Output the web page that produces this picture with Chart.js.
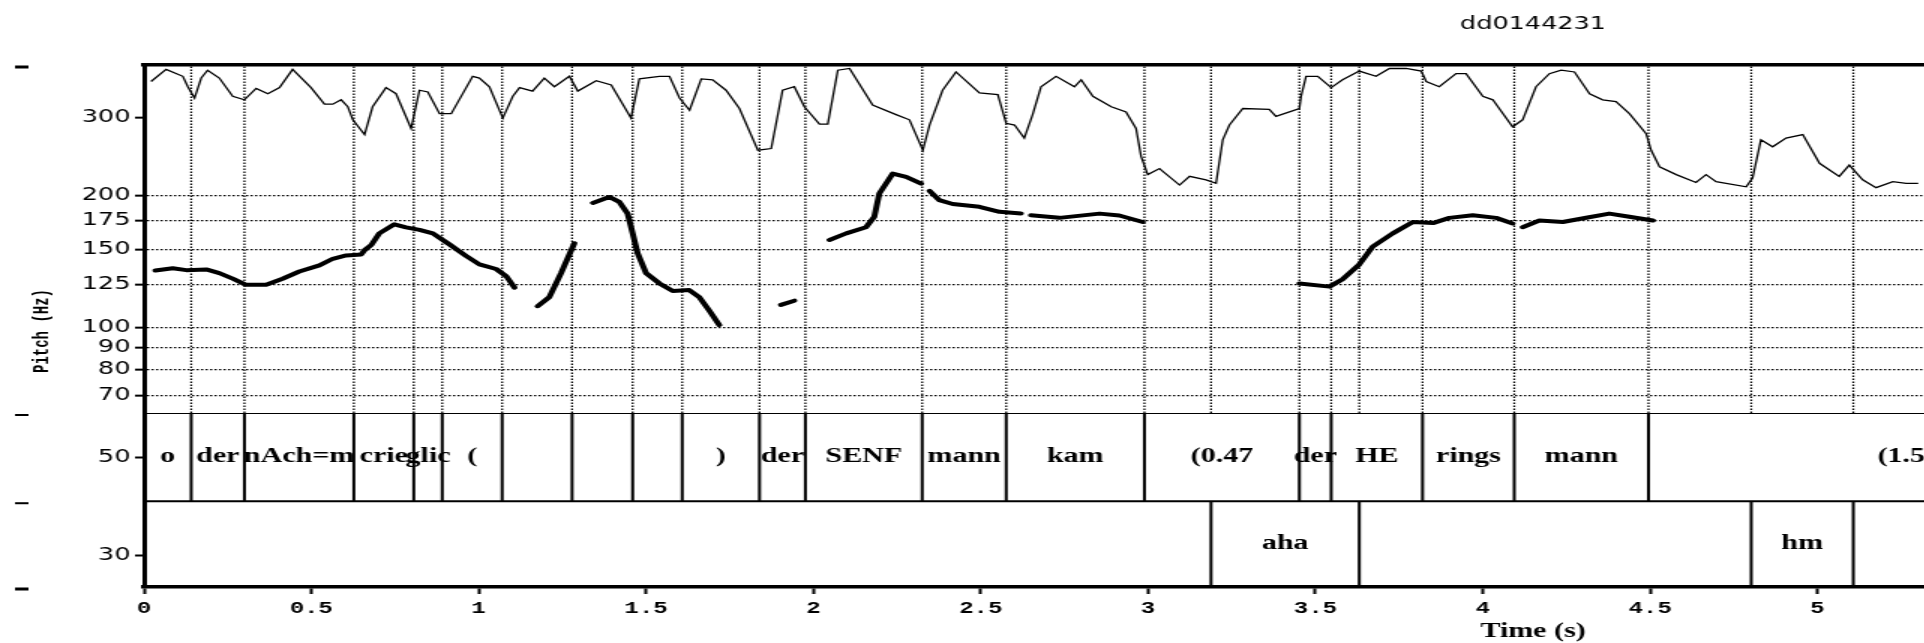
<!DOCTYPE html>
<html>
<head>
<meta charset="utf-8">
<script src="https://cdn.jsdelivr.net/npm/chart.js@4.4.1/dist/chart.umd.min.js"></script>
<style>
  html, body { margin: 0; padding: 0; background: #fff; width: 1924px; height: 643px; overflow: hidden; }
  /* the original figure is stretched horizontally, so draw narrow and widen */
  #wrap { width: 2044px; height: 643px; transform: scaleX(1.5); transform-origin: 0 0; }
  canvas { display: block; }
</style>
</head>
<body>
<div id="wrap"><canvas id="pitch" width="2044" height="643"></canvas></div>
<script>
// axes
const TIME_MAX = 8.3;
const TIME_TICKS = [0, 0.5, 1, 1.5, 2, 2.5, 3, 3.5, 4, 4.5, 5, 5.5, 6, 6.5, 7, 7.5, 8];
const PITCH_MIN = 63.8, PITCH_MAX = 396;
const PITCH_TICKS = [70, 80, 90, 100, 125, 150, 175, 200, 300];
const TIER_MIN = 23.5, TIER_SPLIT = 41, TIER_MAX = 59;
const TIER_TICKS = [30, 50];
const INT_MIN = 30, INT_MAX = 90;

// pitch contour (s, Hz), null = voiceless gap
const pitchT = [0.034,0.086,0.126,0.186,0.225,0.265,0.305,0.365,0.414,0.464,0.524,0.564,0.604,0.649,0.659,0.679,0.703,0.748,0.783,0.823,0.863,0.912,0.962,1.002,1.052,1.082,1.107,null,
  1.176,1.211,1.246,1.286,null,
  1.341,1.390,1.420,1.445,1.460,1.475,1.500,1.540,1.580,1.629,1.659,1.689,1.719,null,
  1.903,1.943,null,
  2.048,2.098,2.157,2.182,2.197,2.237,2.277,2.322,null,
  2.347,2.376,2.416,2.496,2.556,2.620,null,
  2.650,2.735,2.855,2.914,2.984,null,
  3.452,3.542,3.581,3.631,3.671,3.731,3.791,3.851,3.900,3.970,4.040,4.089,null,
  4.119,4.169,4.239,4.309,4.378,4.438,4.508];
const pitchHz = [134.7,136.3,135.0,135.5,132.9,129.1,125.0,125.0,129.0,134.0,138.4,143.3,145.8,146.6,150.0,154.0,163.7,171.7,169.0,166.8,163.7,154.6,145.5,139.1,135.8,130.9,123.1,null,
  111.7,117.2,132.9,155.5,null,
  192.1,198.2,193.1,181.6,163.7,147.4,132.9,125.9,121.0,121.6,117.2,109.1,101.2,null,
  112.5,115.0,null,
  158.2,163.7,169.1,178.6,201.8,224.0,220.3,212.5,null,
  204.5,194.9,191.0,188.2,183.3,181.6,null,
  180.1,177.6,181.6,179.8,173.8,null,
  125.9,123.8,128.7,139.1,152.7,163.7,173.8,172.8,177.6,180.1,177.6,172.4,null,
  169.1,175.2,173.8,177.7,181.6,178.6,175.2];

// intensity contour (s, dB)
const intT = [0.021,0.066,0.116,0.131,0.151,0.171,0.190,0.225,0.265,0.300,0.335,0.370,0.405,0.444,0.499,0.539,0.564,0.589,0.609,0.624,
  0.659,0.683,0.723,0.753,0.798,0.823,0.848,0.883,0.918,0.982,1.002,1.032,1.072,1.102,1.122,1.161,1.196,1.226,1.271,1.296,
  1.351,1.396,1.455,1.480,1.540,1.570,1.600,1.630,1.665,1.699,1.739,1.779,1.834,1.874,1.908,1.943,1.973,2.018,2.043,2.073,
  2.108,2.177,2.247,2.287,2.327,2.347,2.386,2.426,2.496,2.551,2.576,2.601,2.630,2.655,2.680,2.725,2.780,2.800,2.835,2.890,
  2.934,2.964,2.979,2.999,3.034,3.094,3.124,3.173,3.203,3.223,3.243,3.283,3.362,3.382,3.452,3.457,3.472,3.507,3.547,3.581,
  3.631,3.681,3.721,3.771,3.816,3.831,3.870,3.920,3.950,4.000,4.030,4.089,4.119,4.159,4.199,4.234,4.274,4.319,4.358,4.398,
  4.438,4.488,4.503,4.528,4.578,4.637,4.667,4.697,4.787,4.806,4.831,4.866,4.906,4.956,5.006,5.065,5.095,5.135,5.175,5.225,
  5.265,5.301];
const intDb = [88.1,89.5,88.7,87.5,86.2,88.5,89.4,88.5,86.4,86.0,87.3,86.7,87.4,89.5,87.4,85.5,85.5,86.0,85.2,83.7,
  82.0,85.2,87.4,86.7,82.7,87.1,86.9,84.4,84.4,88.7,88.5,87.5,83.9,86.4,87.4,87.0,88.5,87.5,88.7,87.0,
  88.2,87.7,83.9,88.4,88.7,88.7,86.2,84.8,88.4,88.3,87.1,85.0,80.2,80.4,87.1,87.5,85.2,83.2,83.2,89.4,
  89.6,85.4,84.3,83.7,80.2,83.1,87.1,89.2,86.8,86.6,83.3,83.1,81.6,84.3,87.5,88.7,87.5,88.3,86.4,85.2,
  84.6,82.7,79.5,77.4,78.1,76.2,77.2,76.8,76.4,81.4,83.1,85.0,84.9,84.1,85.0,86.4,88.7,88.7,87.4,88.3,
  89.3,88.7,89.6,89.6,89.3,88.1,87.5,89.0,89.0,86.4,86.0,82.9,83.7,87.5,89.0,89.4,89.2,86.7,86.0,85.8,
  84.4,82.1,80.2,78.3,77.4,76.5,77.4,76.6,76.0,77.0,81.4,80.6,81.6,82.0,78.7,77.2,78.5,76.8,75.9,76.6,
  76.4,76.4];

// text grid: word tier and backchannel tier
const wordBounds = [0, 0.141, 0.300, 0.627, 0.806, 0.891, 1.070, 1.279, 1.460, 1.608, 1.839, 1.976, 2.325, 2.576, 2.989, 3.452, 3.547, 3.820, 4.094, 4.495, 6.05];
const wordLabels = ["o", "der", "nAch=m", "crie", "glic", "(", "", "", "", ")", "der", "SENF", "mann", "kam", "(0.47", "der", "HE", "rings", "mann", "(1.52"];
const backBounds = [0, 3.188, 3.631, 4.802, 5.107, TIME_MAX];
const backLabels = ["", "aha", "", "hm", ""];

const BLACK = "#000";

function vLines(xs, y0, y1) {
  return xs.flatMap((x) => [{ x, y: y0 }, { x, y: y1 }, { x, y: null }]);
}

const inner = (b) => b.filter((t) => t > 0 && t < TIME_MAX);
const allBounds = [...new Set([...inner(wordBounds), ...inner(backBounds)])].sort((a, b) => a - b);

const tierText = {
  id: "tierText",
  afterDatasetsDraw(chart) {
    const { ctx, chartArea, scales } = chart;
    const x = scales.x, yTier = scales.yTier;
    ctx.save();
    ctx.fillStyle = BLACK;
    ctx.textAlign = "center";
    ctx.textBaseline = "middle";
    ctx.font = 'bold 20px "Liberation Serif", serif';
    const rows = [
      [wordBounds, wordLabels, TIER_SPLIT, TIER_MAX],
      [backBounds, backLabels, TIER_MIN, TIER_SPLIT],
    ];
    rows.forEach(([b, labels, lo, hi]) => {
      const y = yTier.getPixelForValue((lo + hi) / 2);
      labels.forEach((s, i) => {
        if (s) ctx.fillText(s, x.getPixelForValue((b[i] + b[i + 1]) / 2), y);
      });
    });
    // marks left over from the neighbouring panel
    [scales.yPitch.getPixelForValue(PITCH_MAX), yTier.getPixelForValue(TIER_MAX),
     yTier.getPixelForValue(TIER_SPLIT), yTier.getPixelForValue(TIER_MIN)].forEach((y, i) => {
      const h = i === 0 || i === 3 ? 3 : 2;
      ctx.fillRect(10, y + 2 - h / 2, 9, h);
    });
    // axis title spans the whole stack
    ctx.font = 'bold 14px "Liberation Mono", monospace';
    ctx.translate(28, (chartArea.top + chartArea.bottom) / 2 + 5);
    ctx.rotate(-Math.PI / 2);
    ctx.fillText("Pitch (Hz)", 0, 0);
    ctx.restore();
  },
};

const tickFont = { family: '"DejaVu Sans", sans-serif', size: 17 };

new Chart(document.getElementById("pitch"), {
  type: "line",
  data: {
    datasets: [
      {
        label: "Pitch",
        data: pitchT.map((t, i) => ({ x: t, y: pitchHz[i] })),
        yAxisID: "yPitch",
        borderColor: BLACK,
        borderWidth: 4,
        borderCapStyle: "round",
        borderJoinStyle: "round",
      },
      {
        label: "Intensity",
        data: intT.map((t, i) => ({ x: t, y: intDb[i] })),
        yAxisID: "yInt",
        borderColor: BLACK,
        borderWidth: 1.3,
      },
      {
        label: "word boundaries",
        data: vLines(inner(wordBounds), TIER_SPLIT, TIER_MAX),
        yAxisID: "yTier",
        borderColor: BLACK,
        borderWidth: 2,
      },
      {
        label: "backchannel boundaries",
        data: vLines(inner(backBounds), TIER_MIN, TIER_SPLIT),
        yAxisID: "yTier",
        borderColor: BLACK,
        borderWidth: 2,
      },
      {
        label: "tier lines",
        data: [{ x: 0, y: TIER_MAX }, { x: TIME_MAX, y: TIER_MAX }, { x: 0, y: null },
               { x: 0, y: TIER_SPLIT }, { x: TIME_MAX, y: TIER_SPLIT }],
        yAxisID: "yTier",
        borderColor: BLACK,
        borderWidth: 2,
      },
      {
        label: "boundary guides",
        data: vLines(allBounds, PITCH_MIN, PITCH_MAX),
        yAxisID: "yPitch",
        borderColor: BLACK,
        borderWidth: 1.3,
        borderDash: [1.5, 1.5],
      },
    ],
  },
  options: {
    responsive: false,
    devicePixelRatio: 1,
    animation: false,
    events: [],
    elements: { point: { radius: 0 }, line: { tension: 0 } },
    plugins: {
      legend: { display: false },
      tooltip: { enabled: false },
      title: {
        display: true,
        text: "dd0144231",
        color: BLACK,
        font: { family: '"DejaVu Sans", sans-serif', size: 17, weight: "normal", lineHeight: 1.2 },
        padding: { top: 14, bottom: 30.6 },
      },
    },
    scales: {
      x: {
        type: "linear",
        position: "bottom",
        min: 0,
        max: TIME_MAX,
        afterBuildTicks: (s) => { s.ticks = TIME_TICKS.map((v) => ({ value: v })); },
        afterFit: (s) => { s.height = 56; },
        ticks: {
          callback: (v) => String(v),
          color: BLACK,
          font: { family: '"Liberation Mono", monospace', size: 16, weight: "bold" },
          padding: 5,
          maxRotation: 0,
          autoSkip: false,
        },
        grid: { drawOnChartArea: false, tickLength: 7, tickWidth: 2, tickColor: BLACK },
        border: { color: BLACK, width: 3.5 },
        title: {
          display: true,
          text: "Time (s)",
          color: BLACK,
          font: { family: '"Liberation Serif", serif', size: 20, weight: "bold", lineHeight: 1 },
          padding: { top: 0, bottom: 1 },
        },
      },
      xTop: {
        type: "linear",
        position: "top",
        min: 0,
        max: TIME_MAX,
        ticks: { display: false },
        grid: { drawOnChartArea: false, drawTicks: false },
        border: { color: BLACK, width: 3.5 },
      },
      yTier: {
        type: "linear",
        position: "left",
        stack: "left",
        stackWeight: 174,
        min: TIER_MIN,
        max: TIER_MAX,
        bounds: "data",
        afterBuildTicks: (s) => { s.ticks = TIER_TICKS.map((v) => ({ value: v })); },
        afterFit: (s) => { s.width = 96; },
        ticks: { callback: (v) => String(v), color: BLACK, font: tickFont, padding: 3, autoSkip: false },
        grid: { drawOnChartArea: false, tickLength: 6, tickWidth: 2, tickColor: BLACK },
        border: { color: BLACK, width: 3 },
      },
      yPitch: {
        type: "logarithmic",
        position: "left",
        stack: "left",
        stackWeight: 348,
        min: PITCH_MIN,
        max: PITCH_MAX,
        bounds: "data",
        afterBuildTicks: (s) => { s.ticks = PITCH_TICKS.map((v) => ({ value: v })); },
        afterFit: (s) => { s.width = 96; },
        ticks: { callback: (v) => String(v), color: BLACK, font: tickFont, padding: 3, autoSkip: false },
        grid: {
          color: (c) => (c.tick && c.tick.value === 300 ? "rgba(0,0,0,0)" : BLACK),
          lineWidth: 1.3,
          tickLength: 6,
          tickWidth: 2,
          tickColor: BLACK,
        },
        border: { color: BLACK, width: 3, dash: [1.5, 1.5] },
      },
      yInt: {
        type: "linear",
        position: "right",
        display: false,
        min: INT_MIN,
        max: INT_MAX,
        afterFit: (s) => { s.width = 96; },
      },
    },
  },
  plugins: [tierText],
});
</script>
</body>
</html>
